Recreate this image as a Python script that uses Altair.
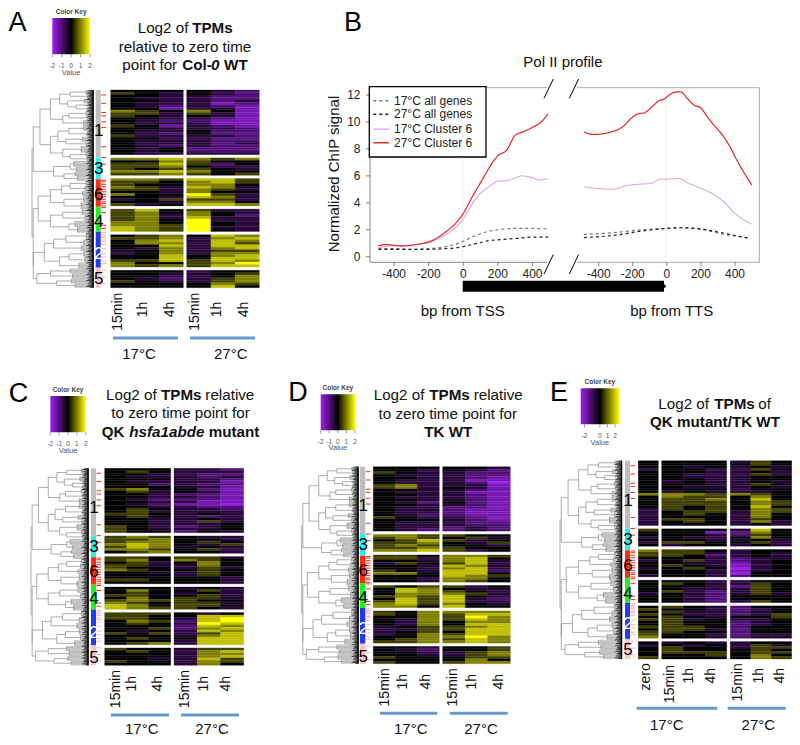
import altair as alt

# ---------------------------------------------------------------- data
HEAT_A = [
 "444432 543432 443322 433322 443323 433312 432321 441331 654641 553531 543431 443321 432211 433311 541321 443332 433422 432422 533332 443322 433322 433323 432322 434222 434222 433333",
 "667656 446544 557524 556433 545543 667644 556545",
 "665775 554675 544664 653763 553653 443644 644853 443763 345553 443664 534776",
 "574533 564643 563642 563733 564833 664843 665843 765833 765843",
 "456476 556367 467376 466375 447377 436367 346355 346366 447467 447477 557576 644568 656577",
 "444344 443345 443346 432356 543356 444465 444474",
]
HEAT_C = [
 "444332 454333 443322 433323 444332 433331 442322 444331 564421 453431 443221 443321 432221 443311 432110 443322 454332 453333 554343 454323 443343 443353 443334 543234 543334 544243",
 "565433 556443 566454 676435 576343 665453 456443",
 "554553 564654 453464 553364 544353 654454 443354 444354 444443 554443 444443",
 "444343 464453 454343 554453 464553 565544 654553 764554 765543",
 "555434 554477 554378 465278 454387 444276 445267 434376 545357 444367 454477 444377 456377",
 "544355 454367 444366 444367 443375 544365 444364",
]
HEAT_D = [
 "444443 443432 543322 433322 443321 433311 433320 563331 563431 443321 433311 443321 433321 443321 432421 443321 433221 433211 433211 432211 543321 444321 433322 433322 433232 432232",
 "665544 565453 457534 556435 565443 556544 667534",
 "554665 553674 443673 354573 443763 443673 543772 664774 444765 443664 443654",
 "545534 476433 476543 466653 565743 475732 575733 675643 664744",
 "546666 546577 446586 436576 436466 436477 345567 335577 345477 346577 446686 456576 556676",
 "443445 432445 443356 443356 544455 444464 544566",
]
HEAT_E = [
 "4444354 4444454 4434343 3443354 4443343 4433353 4433344 4443344 4343343 4443354 4433343 4444344 4343334 6665654 4655464 4556474 4555465 4555465 4545474 3545465 3455365 3454364 3444364 3554354 3454363 3444343",
 "5444374 4441264 4443254 3433464 4443343 3554453 4344343",
 "6554344 5553343 5542343 4443233 3453234 4433134 4543134 3454034 4443134 4443044 3443244",
 "4443344 4543354 4443254 4433354 4532354 3432353 4432444 4432444 4432354",
 "4543244 5443234 4533234 5433235 4543445 5534334 4544234 4544234 5554244 4553244 5544244 5443233 6443233",
 "4343344 3434353 4544355 4544454 4555455 4445464 5444465",
]
CLUSTER_NAMES = ["1", "3", "6", "4", "2", "5"]
CLUSTER_SIZES = [81, 26, 33, 30, 43, 24]
CLUSTER_COLORS = ["#BEBEBE", "#1FF0F0", "#FF2A10", "#1FF01F", "#1F3CF0", "#FFC0CB"]
RED_TICKS = [6, 16, 27, 31, 38, 45, 68, 81, 89, 108, 110, 113, 116, 119, 122, 125, 128, 131, 134, 136, 139, 141, 147, 162, 166]
PALE_TICKS = [171, 173, 175, 177, 180, 182, 185, 190, 196, 200, 205, 208, 216, 224, 232]

BP_L = {
 "red":  ([-490,-450,-400,-350,-300,-250,-200,-150,-100,-50,0,50,100,150,200,250,300,350,400,450,490],
          [.8,.9,.85,.8,.85,.95,1.1,1.4,1.85,2.4,3.2,4.4,5.5,6.6,7.5,7.9,9.0,9.3,9.6,10.0,10.6]),
 "pink": ([-490,-450,-400,-350,-300,-250,-200,-150,-100,-50,0,50,100,150,200,250,300,340,400,440,490],
          [.7,.75,.8,.8,.85,.95,1.05,1.3,1.65,2.1,2.8,3.9,4.7,5.2,5.6,5.65,5.85,6.0,5.85,5.7,5.8]),
 "gray": ([-490,-400,-300,-200,-100,-50,0,50,100,150,200,300,400,490],
          [.6,.6,.55,.6,.75,.9,1.15,1.45,1.7,1.9,2.0,2.1,2.1,2.05]),
 "black":([-490,-400,-300,-200,-100,-50,0,50,100,150,200,300,400,490],
          [.55,.55,.55,.55,.6,.65,.75,.9,1.05,1.2,1.25,1.35,1.45,1.45]),
}
BP_R = {
 "red":  ([-487,-433,-316,-258,-210,-171,-132,-83,-45,-15,14,43,81,120,159,198,237,276,334,373,411,450,499],
          [9.27,9.07,9.3,9.65,10.26,10.59,10.68,11.18,11.58,11.7,12.0,12.19,12.24,11.75,11.25,11.06,10.39,9.77,8.9,8.11,7.17,6.3,5.31]),
 "pink": ([-487,-413,-316,-248,-151,-93,-45,0,72,120,178,246,323,411,499],
          [5.19,5.07,5.0,5.24,5.39,5.44,5.74,5.76,5.81,5.49,5.19,4.82,4.2,3.09,2.42]),
 "gray": ([-487,-300,-150,0,80,200,300,480], [1.65,1.8,2.0,2.1,2.15,2.05,1.75,1.4]),
 "black":([-487,-300,-150,0,80,200,340,480], [1.42,1.6,1.9,2.1,2.15,2.05,1.73,1.36]),
}
SERIES_NAMES = ["17°C all genes", "27°C all genes", "17°C Cluster 6", "27°C Cluster 6"]
Y_TICKS = [0, 2, 4, 6, 8, 10, 12]
X_TICKS = [-400, -200, 0, 200, 400]

# dendrogram: (height, child, child...) and fans as (height, leaf count)
def N(f, *k): return (f, k)
def F(f, n): return (f, n)
TREE = N(0,
  N(.02,
    N(.13,
      N(.30,
        N(.45, N(.62,F(.88,5),F(.9,5)), N(.58,F(.85,6),N(.72,F(.92,4),F(.9,5)))),
        N(.5, N(.6,F(.88,6),F(.9,5)), F(.84,7))),
      N(.3,
        N(.42, N(.6,F(.84,6),F(.9,7)), N(.55,F(.82,6),F(.88,5))),
        N(.5, F(.8,8), N(.62,F(.88,5),F(.9,5))))),
    N(.35, N(.62,F(.68,7),F(.72,6)), N(.52,F(.7,5),F(.74,6)))),
  N(.02,
    N(.1,
      N(.3,
        N(.48, N(.62,F(.88,6),F(.86,6)), F(.82,6)),
        N(.52, F(.84,8), F(.8,8))),
      N(.3,
        N(.5, F(.82,7), F(.86,7)),
        N(.6, F(.7,7), F(.74,7)))),
    N(.02,
      N(.2,
        N(.35, N(.55,F(.88,8),F(.84,7)), F(.8,7)),
        N(.45, N(.6,F(.84,7),F(.86,7)), F(.76,7))),
      N(.08, N(.3,F(.62,6),F(.66,6)), N(.4,F(.64,6),F(.7,5))))))
TIP_STARTS = [.93, .9, .95, .91, .88, .94, .92]

# ---------------------------------------------------------------- helpers
ONE = alt.Data(values=[{"a": 1}])
OX, OY = 8, 8
FONT = "Liberation Sans"
layers = []

def sc(domain, a, b, off):
    return alt.Scale(domain=list(domain), range=[a - off, b - off], nice=False, zero=False)

def T(text, x, y, size=15.2, weight="normal", style="normal", angle=0, align="center", color="#111111"):
    layers.append(alt.Chart(ONE).mark_text(
        text=text, font=FONT, fontSize=size, fontWeight=weight, fontStyle=style,
        angle=angle, align=align, baseline="middle", color=color
    ).encode(x=alt.value(x - OX), y=alt.value(y - OY)))

def R(x1, y1, x2, y2, color="#000000", w=1.0, dash=None):
    kw = {"strokeDash": dash} if dash else {}
    layers.append(alt.Chart(ONE).mark_rule(color=color, strokeWidth=w, **kw).encode(
        x=alt.value(x1 - OX), y=alt.value(y1 - OY), x2=alt.value(x2 - OX), y2=alt.value(y2 - OY)))

def tree_segments():
    segs, cur = [], [0]
    def walk(node):
        f, kids = node
        if isinstance(kids, int):
            y0 = cur[0]
            for i in range(kids):
                y = y0 + i + .5
                segs.append(dict(a=f, b=1, c=y, d=y, k="leaf"))
                segs.append(dict(a=TIP_STARTS[(cur[0] + i) % len(TIP_STARTS)], b=1, c=y, d=y, k="tip"))
            cur[0] += kids
            segs.append(dict(a=f, b=f, c=y0 + .5, d=y0 + kids - .5, k="branch"))
            return y0 + kids / 2
        ys = []
        for kid in kids:
            yc = walk(kid)
            segs.append(dict(a=f, b=kid[0], c=yc, d=yc, k="branch"))
            ys.append(yc)
        segs.append(dict(a=f, b=f, c=min(ys), d=max(ys), k="branch"))
        return sum(ys) / len(ys)
    walk(TREE)
    return segs, cur[0]

SEGS, NLEAF = tree_segments()
SEG_DATA = alt.Data(values=SEGS)

HEAT_SCALE = alt.Scale(domain=[-2, 0, 2], range=["#A020F0", "#000000", "#FFFF00"], interpolate="rgb")

def heat(clusters, blocks, top, bottom):
    cells, pos = [], 0.0
    for c in clusters:
        for row in c.split():
            for j, ch in enumerate(row):
                cells.append(dict(c0=j, c1=j + 1, r0=pos, r1=pos + 1, v=(int(ch) - 4) / 2))
            pos += 1
        pos += 1.3
    total = pos - 1.3
    for (c0, c1, px0, px1) in blocks:
        sub = [d for d in cells if c0 <= d["c0"] < c1]
        layers.append(alt.Chart(alt.Data(values=sub)).mark_rect(strokeWidth=.3).encode(
            x=alt.X("c0:Q", scale=sc([c0, c1], px0, px1, OX), axis=None),
            x2="c1:Q",
            y=alt.Y("r0:Q", scale=sc([0, total], top, bottom, OY), axis=None),
            y2="r1:Q",
            color=alt.Color("v:Q", scale=HEAT_SCALE, legend=None),
            stroke=alt.Stroke("v:Q", scale=HEAT_SCALE, legend=None)))

def dendro(x0, x1, top, bottom):
    layers.append(alt.Chart(SEG_DATA).mark_rule(strokeWidth=.7).encode(
        x=alt.X("a:Q", scale=sc([0, 1], x0, x1, OX), axis=None),
        x2="b:Q",
        y=alt.Y("c:Q", scale=sc([0, NLEAF], top, bottom, OY), axis=None),
        y2="d:Q",
        color=alt.Color("k:N", scale=alt.Scale(domain=["branch", "leaf", "tip"],
                        range=["#8A8A8A", "#A8A8A8", "#000000"]), legend=None)))

def sidebar(x0, x1, tick_end, top, bottom):
    rows, start = [], 0
    for name, n, col in zip(CLUSTER_NAMES, CLUSTER_SIZES, CLUSTER_COLORS):
        rows.append(dict(s=start, e=start + n, name=name))
        start += n
    ys = sc([0, start], top, bottom, OY)
    layers.append(alt.Chart(alt.Data(values=rows)).mark_rect().encode(
        x=alt.value(x0 - OX), x2=alt.value(x1 - OX),
        y=alt.Y("s:Q", scale=ys, axis=None), y2="e:Q",
        color=alt.Color("name:N", scale=alt.Scale(domain=CLUSTER_NAMES, range=CLUSTER_COLORS), legend=None)))
    for ticks, col in ((RED_TICKS, "#FF2A10"), (PALE_TICKS, "#FFB0B8")):
        layers.append(alt.Chart(alt.Data(values=[dict(t=t) for t in ticks])).mark_rule(color=col, strokeWidth=1).encode(
            x=alt.value(x1 + .5 - OX), x2=alt.value(tick_end - OX),
            y=alt.Y("t:Q", scale=ys, axis=None)))

def key(x0, x1, top, bottom, label_y, title_y, value_y, dom, ticks):
    rows = [dict(a=dom[0], b=dom[1])]
    xs = sc(dom, x0, x1, OX)
    layers.append(alt.Chart(alt.Data(values=rows)).mark_rect(
        color=alt.Gradient(gradient="linear", x1=0, x2=1, y1=0, y2=0, stops=[
            alt.GradientStop(color="#A020F0", offset=0),
            alt.GradientStop(color="#000000", offset=.5),
            alt.GradientStop(color="#FFFF00", offset=1)])).encode(
        x=alt.X("a:Q", scale=xs, axis=None), x2="b:Q",
        y=alt.value(top - OY), y2=alt.value(bottom - OY)))
    tk = [dict(t=t, s=str(t)) for t in ticks]
    layers.append(alt.Chart(alt.Data(values=tk)).mark_rule(color="#555555", strokeWidth=.6).encode(
        x=alt.X("t:Q", scale=xs, axis=None), y=alt.value(bottom - OY), y2=alt.value(bottom + 3 - OY)))
    layers.append(alt.Chart(alt.Data(values=tk)).mark_text(font=FONT, fontSize=6.5, color="#555555").encode(
        x=alt.X("t:Q", scale=xs, axis=None), y=alt.value(label_y - OY), text="s:N"))
    T("Color Key", (x0 + x1) / 2, title_y, size=6.5, weight="bold", color="#444444")
    T("Value", (x0 + x1) / 2, value_y, size=7.5, color="#555555")

def digits(x, ys):
    for name, y in zip(CLUSTER_NAMES, ys):
        T(name, x, y, size=17, color="#FFFFFF" if name == "2" else "#000000")

# ---------------------------------------------------------------- heat panels
def panel(clusters, blocks, top, bottom, dx0, dx1, sx0, sx1, tick_end, digit_ys):
    dendro(dx0, dx1, top, bottom)
    R(dx1 - .5, top, dx1 - .5, bottom, "#000000", 1.5)
    sidebar(sx0, sx1, tick_end, top, bottom)
    heat(clusters, blocks, top, bottom)
    digits((sx0 + sx1) / 2 + .5, digit_ys)

panel(HEAT_A, [(0, 3, 110.7, 183.3), (3, 6, 186.7, 259.3)], 90, 287.7, 32, 93.5, 95.7, 100.7, 106,
      [131, 169, 195, 222, 254, 279])
panel(HEAT_C, [(0, 3, 104.7, 170.7), (3, 6, 174, 243.7)], 468.3, 665.3, 31, 88.5, 91, 96, 101,
      [508, 546.7, 572, 599, 632.7, 657.7])
panel(HEAT_D, [(0, 3, 373.3, 439.3), (3, 6, 442.7, 510.3)], 466.7, 663.7, 301.7, 358.5, 360, 365.3, 370.5,
      [505.7, 545, 570.7, 598.3, 629.3, 656.7])
panel(HEAT_E, [(0, 1, 638.3, 658.3), (1, 4, 661.7, 726.7), (4, 7, 730.3, 791.7)], 460.7, 659, 560, 622, 625, 630, 635,
      [501, 540, 566, 594.3, 624, 650])

key(52.3, 90, 18, 54.3, 66, 11.7, 72.5, [-2, 2], [-2, -1, 0, 1, 2])
key(50.3, 85.7, 396, 432.3, 444, 390, 450.7, [-2, 2], [-2, -1, 0, 1, 2])
key(320.7, 355, 394.3, 430.3, 441.7, 387.7, 448.3, [-2, 2], [-2, -1, 0, 1, 2])
key(580.7, 619, 388.3, 424.3, 435.7, 381.7, 442.7, [-2.5, 2.5], [-2, 0, 1, 2])

def col_labels(items, size=14):
    for text, x, y in items:
        T(text, x, y, size=size, angle=270, align="right")

BLUE = "#6699CC"
# panel A labels
col_labels([("15min", 118, 292.7), ("1h", 143, 301.7), ("4h", 170, 301.7),
            ("15min", 195, 292.7), ("1h", 216.7, 301.7), ("4h", 244, 301.7)])
R(113, 338, 178, 338, BLUE, 3); R(190, 338, 255, 338, BLUE, 3)
T("17°C", 139, 354, 15); T("27°C", 230.7, 354, 15)
# panel C labels
col_labels([("15min", 115.7, 670), ("1h", 132, 676), ("4h", 158, 676),
            ("15min", 185, 670), ("1h", 204, 676), ("4h", 226, 676)])
R(111, 715, 169, 715, BLUE, 3); R(181, 715, 239, 715, BLUE, 3)
T("17°C", 141.7, 729, 15); T("27°C", 212, 729, 15)
# panel D labels
col_labels([("15min", 385, 668.3), ("1h", 403.3, 674), ("4h", 426, 674),
            ("15min", 453.3, 668.3), ("1h", 472.3, 674), ("4h", 499.3, 674)])
R(380, 713.3, 437.3, 713.3, BLUE, 3); R(450, 713.3, 507.7, 713.3, BLUE, 3)
T("17°C", 410.7, 729, 15); T("27°C", 481, 729, 15)
# panel E labels
col_labels([("zero", 646, 663.3), ("15min", 670, 665), ("1h", 689, 668), ("4h", 711, 668),
            ("15min", 737.7, 663.3), ("1h", 759.3, 668), ("4h", 780, 668)])
R(636.7, 708.3, 717.3, 708.3, BLUE, 3); R(727.7, 708.3, 785.7, 708.3, BLUE, 3)
T("17°C", 666.7, 725, 15); T("27°C", 758.3, 725, 15)

# titles
T("Log2 of", 137.7, 28.3, align="left"); T("TPMs", 232.7, 28.3, weight="bold", align="right")
T("relative to zero time", 185, 46.7)
T("point for", 122.3, 65, align="left"); T("Col-", 182.3, 65, weight="bold", align="left")
T("0", 211, 65, weight="bold", style="italic", align="left"); T("WT", 247.7, 65, weight="bold", align="right")

T("Log2 of", 106, 395, align="left"); T("TPMs", 161, 395, weight="bold", align="left"); T("relative", 254.3, 395, align="right")
T("to zero time point for", 180.5, 413.3)
T("QK", 101.7, 431.7, weight="bold", align="left"); T("hsfa1abde", 129.3, 431.7, weight="bold", style="italic", align="left")
T("mutant", 259.3, 431.7, weight="bold", align="right")

T("Log2 of", 373.7, 395, align="left"); T("TPMs", 429.3, 395, weight="bold", align="left"); T("relative", 522.7, 395, align="right")
T("to zero time point for", 447.8, 414)
T("TK WT", 448.3, 431.7, weight="bold")

T("Log2 of", 658.3, 404, align="left"); T("TPMs", 714.3, 404, weight="bold", align="left"); T("of", 771, 404, align="right")
T("QK mutant/TK WT", 715, 422.3, weight="bold")

for letter, x, y in (("A", 17.5, 22.5), ("B", 353, 22.5), ("C", 18.5, 394), ("D", 298, 393), ("E", 559, 393)):
    T(letter, x, y, size=27, color="#000000")

# ---------------------------------------------------------------- panel B
PY = sc([0, 12], 256.7, 95, OY)
PXL = sc([-400, 400], 394, 532.5, OX)
PXR = sc([-400, 400], 598.7, 735, OX)
FRAME = "#AAAAAA"

R(462.7, 158, 462.7, 262.3, "#DDDDDD", 1, [1, 1])
R(666, 88, 666, 262.3, "#DDDDDD", 1, [1, 1])
R(370, 87.7, 547, 87.7, FRAME, 1); R(577, 87.7, 759.3, 87.7, FRAME, 1)
R(370, 262.3, 547, 262.3, "#888888", 1); R(577, 262.3, 759.3, 262.3, FRAME, 1)
R(370, 87.7, 370, 262.3, "#888888", 1); R(759.3, 87.7, 759.3, 262.3, FRAME, 1)

SERIES_KEYS = ["gray", "black", "pink", "red"]
SERIES_COL = ["#777777", "#222222", "#E6A8E6", "#E32626"]
SERIES_DASH = [[3, 3], [3, 3], [1, 0], [1, 0]]
for table, xs in ((BP_L, PXL), (BP_R, PXR)):
    rows = []
    for k in SERIES_KEYS:
        for bp, v in zip(*table[k]):
            rows.append(dict(s=k, bp=bp, v=v))
    layers.append(alt.Chart(alt.Data(values=rows)).mark_line(strokeWidth=1.2, interpolate="monotone").encode(
        x=alt.X("bp:Q", scale=xs, axis=None),
        y=alt.Y("v:Q", scale=PY, axis=None),
        color=alt.Color("s:N", scale=alt.Scale(domain=SERIES_KEYS, range=SERIES_COL), legend=None),
        strokeDash=alt.StrokeDash("s:N", scale=alt.Scale(domain=SERIES_KEYS, range=SERIES_DASH), legend=None)))
    tk = [dict(t=t, s=str(t)) for t in X_TICKS]
    layers.append(alt.Chart(alt.Data(values=tk)).mark_rule(color="#666666", strokeWidth=.8).encode(
        x=alt.X("t:Q", scale=xs, axis=None), y=alt.value(262.3 - OY), y2=alt.value(266 - OY)))
    layers.append(alt.Chart(alt.Data(values=tk)).mark_text(font=FONT, fontSize=12, color="#222222").encode(
        x=alt.X("t:Q", scale=xs, axis=None), y=alt.value(273.5 - OY), text="s:N"))

yt = [dict(t=t, s=str(t)) for t in Y_TICKS]
layers.append(alt.Chart(alt.Data(values=yt)).mark_rule(color="#666666", strokeWidth=.8).encode(
    y=alt.Y("t:Q", scale=PY, axis=None), x=alt.value(366 - OX), x2=alt.value(370 - OX)))
layers.append(alt.Chart(alt.Data(values=yt)).mark_text(font=FONT, fontSize=12, color="#222222", align="right").encode(
    y=alt.Y("t:Q", scale=PY, axis=None), x=alt.value(360.5 - OX), text="s:N"))

for x0 in (544, 569.3):
    R(x0, 98.3, x0 + 9.3, 79, "#000000", 1)
    R(x0, 274, x0 + 9.3, 254.5, "#000000", 1)

# legend
layers.append(alt.Chart(ONE).mark_rect(fill="#FFFFFF", stroke="#000000", strokeWidth=1.3).encode(
    x=alt.value(369.3 - OX), x2=alt.value(486 - OX), y=alt.value(86.7 - OY), y2=alt.value(157 - OY)))
for name, col, dash, y in zip(SERIES_NAMES, SERIES_COL, SERIES_DASH, (100.7, 114.3, 129.3, 142.7)):
    R(373.3, y, 389, y, col, 1.4, dash)
    T(name, 394, y, size=12, align="left", color="#222222")

T("Normalized ChIP signal", 334, 174, size=15, angle=270)
T("Pol II profile", 523.3, 62, size=15, align="left")
T("bp from TSS", 462.7, 311, size=15)
T("bp from TTS", 671.7, 311, size=15)

# gene arrow
layers.append(alt.Chart(ONE).mark_rect(color="#000000").encode(
    x=alt.value(462.7 - OX), x2=alt.value(664 - OX), y=alt.value(280.7 - OY), y2=alt.value(291.7 - OY)))
layers.append(alt.Chart(ONE).mark_point(shape="M0,-1L1,0L0,1Z", filled=True, color="#000000", opacity=1, size=30).encode(
    x=alt.value(663.5 - OX), y=alt.value(286.2 - OY)))

chart = alt.layer(*layers).resolve_scale(
    x="independent", y="independent", color="independent", stroke="independent", strokeDash="independent"
).properties(
    width=784, height=729, autosize=alt.AutoSizeParams(type="none"), padding=0, background="#FFFFFF"
).configure_view(stroke=None)

chart.save("out.html", embed_options={"renderer": "svg", "actions": False})
